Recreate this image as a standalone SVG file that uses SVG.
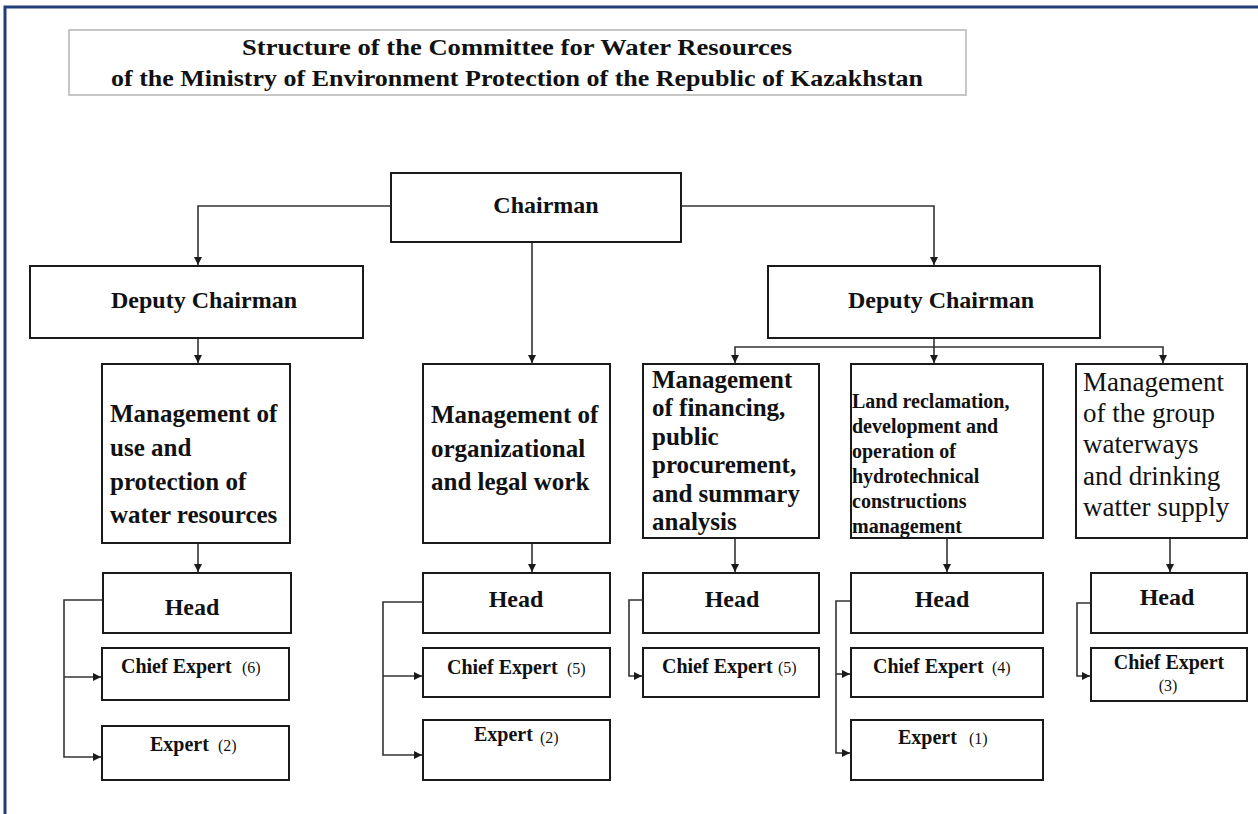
<svg xmlns="http://www.w3.org/2000/svg" width="1258" height="814" viewBox="0 0 1258 814">
<defs>
<marker id="arr" markerUnits="userSpaceOnUse" markerWidth="9" markerHeight="9" refX="8" refY="4" orient="auto">
<path d="M0,0 L8,4 L0,8 z" fill="#1a1a1a"/>
</marker>
<style>
.box{fill:#fff;stroke:#1a1a1a;stroke-width:2}
.ln{fill:none;stroke:#333;stroke-width:1.6}
.t{font-family:"Liberation Serif","Times New Roman",serif;fill:#111}
.b{font-weight:bold}
.big{font-size:24px;font-weight:bold}
.mg{font-size:25px;font-weight:bold}
.mgr{font-size:27px}
.sm{font-size:20px;font-weight:bold}
.ce{font-size:20px;font-weight:bold}
.n{font-size:16px}
</style>
</defs>
<rect width="1258" height="814" fill="#fff"/>
<path d="M5,814 V7 H1258" fill="none" stroke="#203e78" stroke-width="3"/>
<g id="title">
<rect x="69" y="30" width="897" height="65" fill="#fff" stroke="#b5b5b5" stroke-width="1.5"/>
<text class="t b" x="517" y="55" font-size="23" text-anchor="middle" textLength="550" lengthAdjust="spacingAndGlyphs">Structure of the Committee for Water Resources</text>
<text class="t b" x="517" y="86" font-size="23" text-anchor="middle" textLength="812" lengthAdjust="spacingAndGlyphs">of the Ministry of Environment Protection of the Republic of Kazakhstan</text>
</g>
<g id="connectors">
<path class="ln" d="M391,206 H198 V265" marker-end="url(#arr)"/>
<path class="ln" d="M681,206 H934 V265" marker-end="url(#arr)"/>
<path class="ln" d="M532,242 V363" marker-end="url(#arr)"/>
<path class="ln" d="M198,338 V363" marker-end="url(#arr)"/>
<path class="ln" d="M934,338 V363" marker-end="url(#arr)"/>
<path class="ln" d="M934,347 H735 V363" marker-end="url(#arr)"/>
<path class="ln" d="M934,347 H1163 V363" marker-end="url(#arr)"/>
<path class="ln" d="M198,543 V572" marker-end="url(#arr)"/>
<path class="ln" d="M532,543 V572" marker-end="url(#arr)"/>
<path class="ln" d="M735,538 V572" marker-end="url(#arr)"/>
<path class="ln" d="M947,538 V572" marker-end="url(#arr)"/>
<path class="ln" d="M1170,538 V572" marker-end="url(#arr)"/>
<path class="ln" d="M103,600 H64 V757 H101" marker-end="url(#arr)"/>
<path class="ln" d="M64,677 H101" marker-end="url(#arr)"/>
<path class="ln" d="M423,602 H383 V755 H422" marker-end="url(#arr)"/>
<path class="ln" d="M383,676 H422" marker-end="url(#arr)"/>
<path class="ln" d="M643,600 H629 V676 H642" marker-end="url(#arr)"/>
<path class="ln" d="M851,601 H836 V753 H850" marker-end="url(#arr)"/>
<path class="ln" d="M836,674 H850" marker-end="url(#arr)"/>
<path class="ln" d="M1091,603 H1077 V676 H1090" marker-end="url(#arr)"/>
</g>
<g id="chairman">
<rect class="box" x="391" y="173" width="290" height="69"/>
<text class="t big" x="546" y="213" text-anchor="middle">Chairman</text>
</g>
<g id="deputy-left">
<rect class="box" x="30" y="266" width="333" height="72"/>
<text class="t big" x="204" y="308" text-anchor="middle">Deputy Chairman</text>
</g>
<g id="deputy-right">
<rect class="box" x="768" y="266" width="332" height="72"/>
<text class="t big" x="941" y="308" text-anchor="middle">Deputy Chairman</text>
</g>
<g id="mgmt-water">
<rect class="box" x="102" y="364" width="188" height="179"/>
<text class="t mg" x="110"><tspan x="110" y="422">Management of</tspan><tspan x="110" y="456">use and</tspan><tspan x="110" y="490">protection of</tspan><tspan x="110" y="523">water resources</tspan></text>
</g>
<g id="mgmt-legal">
<rect class="box" x="423" y="364" width="187" height="179"/>
<text class="t mg" x="431"><tspan x="431" y="423">Management of</tspan><tspan x="431" y="457">organizational</tspan><tspan x="431" y="490">and legal work</tspan></text>
</g>
<g id="mgmt-finance">
<rect class="box" x="643" y="364" width="176" height="174"/>
<text class="t mg" x="652"><tspan x="652" y="388">Management</tspan><tspan x="652" y="416">of financing,</tspan><tspan x="652" y="445">public</tspan><tspan x="652" y="473">procurement,</tspan><tspan x="652" y="502">and summary</tspan><tspan x="652" y="530">analysis</tspan></text>
</g>
<g id="mgmt-land">
<rect class="box" x="851" y="364" width="192" height="174"/>
<text class="t sm" x="852"><tspan x="852" y="408">Land reclamation,</tspan><tspan x="852" y="433">development and</tspan><tspan x="852" y="458">operation of</tspan><tspan x="852" y="483">hydrotechnical</tspan><tspan x="852" y="508">constructions</tspan><tspan x="852" y="533">management</tspan></text>
</g>
<g id="mgmt-waterways">
<rect class="box" x="1076" y="364" width="171" height="174"/>
<text class="t mgr" x="1083"><tspan x="1083" y="391">Management</tspan><tspan x="1083" y="422">of the group</tspan><tspan x="1083" y="453">waterways</tspan><tspan x="1083" y="485">and drinking</tspan><tspan x="1083" y="516">watter supply</tspan></text>
</g>
<g id="head-1">
<rect class="box" x="103" y="573" width="188" height="60"/>
<text class="t big" x="192" y="615" text-anchor="middle">Head</text>
</g>
<g id="chief-1">
<rect class="box" x="102" y="648" width="187" height="52"/>
<text class="t ce" x="121" y="673">Chief Expert</text>
<text class="t n" x="242" y="673">(6)</text>
</g>
<g id="expert-1">
<rect class="box" x="102" y="726" width="187" height="54"/>
<text class="t ce" x="150" y="751">Expert</text>
<text class="t n" x="218" y="751">(2)</text>
</g>
<g id="head-2">
<rect class="box" x="423" y="573" width="187" height="60"/>
<text class="t big" x="516" y="607" text-anchor="middle">Head</text>
</g>
<g id="chief-2">
<rect class="box" x="423" y="648" width="187" height="49"/>
<text class="t ce" x="447" y="674">Chief Expert</text>
<text class="t n" x="567" y="674">(5)</text>
</g>
<g id="expert-2">
<rect class="box" x="423" y="720" width="187" height="60"/>
<text class="t ce" x="474" y="741">Expert</text>
<text class="t n" x="540" y="743">(2)</text>
</g>
<g id="head-3">
<rect class="box" x="643" y="573" width="176" height="60"/>
<text class="t big" x="732" y="607" text-anchor="middle">Head</text>
</g>
<g id="chief-3">
<rect class="box" x="643" y="648" width="176" height="49"/>
<text class="t ce" x="662" y="673">Chief Expert</text>
<text class="t n" x="778" y="673">(5)</text>
</g>
<g id="head-4">
<rect class="box" x="851" y="573" width="192" height="60"/>
<text class="t big" x="942" y="607" text-anchor="middle">Head</text>
</g>
<g id="chief-4">
<rect class="box" x="851" y="648" width="192" height="49"/>
<text class="t ce" x="873" y="673">Chief Expert</text>
<text class="t n" x="992" y="673">(4)</text>
</g>
<g id="expert-4">
<rect class="box" x="851" y="720" width="192" height="60"/>
<text class="t ce" x="898" y="744">Expert</text>
<text class="t n" x="969" y="744">(1)</text>
</g>
<g id="head-5">
<rect class="box" x="1091" y="573" width="156" height="60"/>
<text class="t big" x="1167" y="605" text-anchor="middle">Head</text>
</g>
<g id="chief-5">
<rect class="box" x="1091" y="648" width="156" height="53"/>
<text class="t ce" x="1169" y="669" text-anchor="middle">Chief Expert</text>
<text class="t n" x="1168" y="691" text-anchor="middle">(3)</text>
</g>
</svg>
